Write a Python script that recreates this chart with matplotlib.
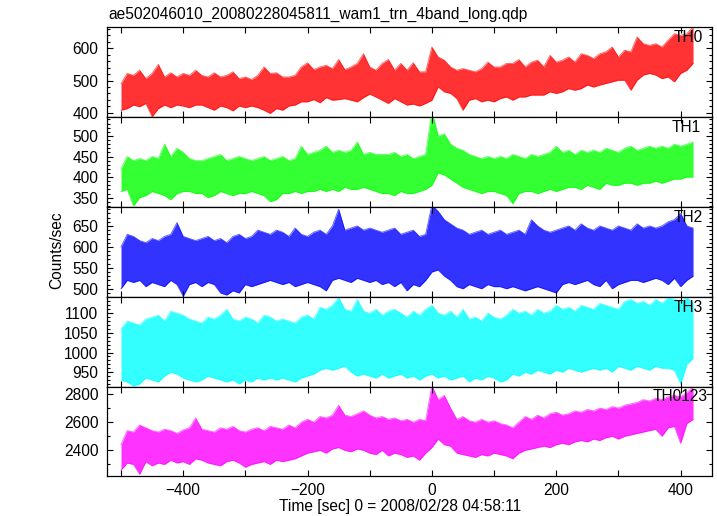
import matplotlib
matplotlib.use('Agg')
import matplotlib.pyplot as plt
from matplotlib.ticker import MultipleLocator, AutoMinorLocator
import numpy as np

plt.rcParams['font.family'] = ['Liberation Sans', 'DejaVu Sans']

# time grid of the envelope readings (sec from 2008/02/28 04:58:11)
t = np.arange(-500, 421, 10)

# upper / lower envelope of each band, every 10 s
th0_hi = [490, 522, 516, 532, 506, 522, 550, 511, 524, 511, 522, 516, 532, 516, 511, 524, 511, 516, 527, 506,
          511, 503, 516, 542, 522, 524, 511, 511, 516, 542, 555, 534, 542, 547, 537, 565, 534, 542, 553, 583,
          542, 532, 553, 565, 532, 553, 532, 555, 527, 527,
          604, 573, 563, 542, 532, 537, 532, 527, 537, 557, 542, 542, 553, 553, 565, 542, 557, 563, 542, 578,
          557, 563, 573, 557, 583, 578, 568, 583, 589, 604, 573, 594, 589, 635, 614, 609, 614, 604, 625, 645,
          640, 645, 666]
th0_lo = [408, 413, 424, 419, 429, 388, 413, 424, 416, 424, 421, 416, 424, 424, 416, 408, 421, 416, 406, 421,
          416, 421, 416, 408, 398, 413, 408, 421, 424, 434, 434, 441, 431, 447, 439, 441, 444, 439, 434, 447,
          458, 449, 439, 429, 444, 434, 424, 427, 421, 429,
          439, 480, 465, 460, 444, 408, 439, 444, 434, 439, 434, 444, 449, 439, 449, 449, 455, 455, 455, 465,
          460, 465, 475, 470, 475, 486, 480, 486, 491, 496, 501, 501, 470, 501, 517, 522, 517, 506, 511, 496,
          522, 532, 553]

th1_hi = [420, 450, 440, 445, 440, 450, 445, 480, 450, 470, 460, 445, 440, 440, 445, 450, 455, 440, 445, 450,
          445, 440, 445, 450, 440, 445, 450, 440, 445, 475, 455, 460, 465, 475, 460, 465, 460, 465, 485, 455,
          460, 455, 455, 455, 460, 450, 455, 445, 450, 455,
          560, 500, 505, 480, 470, 465, 455, 450, 445, 450, 445, 450, 445, 455, 450, 445, 455, 450, 455, 460,
          475, 460, 465, 455, 465, 460, 465, 460, 470, 465, 460, 470, 475, 465, 470, 475, 470, 475, 470, 480,
          475, 480, 485]
th1_lo = [365, 370, 330, 350, 355, 365, 360, 355, 345, 360, 365, 365, 360, 360, 350, 355, 365, 360, 355, 360,
          360, 365, 360, 355, 340, 345, 360, 360, 365, 360, 365, 365, 370, 365, 370, 365, 375, 370, 370, 375,
          370, 365, 360, 360, 355, 365, 360, 360, 365, 370,
          380, 410, 405, 395, 385, 375, 370, 365, 360, 365, 365, 360, 355, 335, 360, 365, 365, 360, 365, 370,
          365, 370, 375, 375, 370, 380, 375, 370, 385, 380, 380, 385, 385, 380, 385, 385, 390, 385, 390, 395,
          395, 400, 400]

th2_hi = [600, 630, 625, 615, 610, 620, 615, 625, 630, 658, 625, 620, 615, 620, 625, 615, 620, 610, 625, 630,
          620, 625, 640, 635, 630, 640, 635, 625, 645, 630, 625, 635, 640, 630, 650, 690, 640, 645, 650, 640,
          645, 640, 635, 640, 645, 630, 635, 640, 625, 630,
          700, 685, 665, 655, 645, 640, 630, 635, 640, 630, 635, 640, 630, 635, 640, 630, 665, 650, 640, 635,
          640, 645, 650, 640, 655, 645, 640, 650, 645, 640, 650, 645, 640, 655, 645, 650, 645, 650, 660, 665,
          680, 650, 645]
th2_lo = [500, 520, 515, 520, 505, 515, 510, 505, 520, 510, 482, 510, 515, 505, 515, 510, 490, 485, 495, 490,
          510, 505, 510, 515, 520, 515, 510, 515, 505, 510, 515, 510, 505, 495, 520, 525, 520, 515, 525, 520,
          515, 520, 510, 515, 505, 515, 495, 510, 505, 520,
          540, 545, 530, 520, 505, 500, 510, 505, 500, 510, 505, 505, 500, 505, 500, 495, 500, 505, 500, 495,
          490, 510, 515, 510, 515, 520, 510, 505, 520, 500, 510, 515, 520, 520, 515, 520, 525, 520, 510, 525,
          505, 520, 530]

th3_hi = [1060, 1080, 1075, 1070, 1085, 1090, 1095, 1080, 1105, 1100, 1095, 1085, 1080, 1075, 1090, 1085, 1095, 1110, 1085, 1080,
          1090, 1085, 1075, 1095, 1090, 1080, 1085, 1080, 1075, 1090, 1095, 1085, 1115, 1110, 1120, 1140, 1110, 1105, 1135, 1105,
          1100, 1110, 1095, 1105, 1110, 1100, 1090, 1105, 1095, 1110,
          1120, 1100, 1095, 1105, 1090, 1110, 1085, 1090, 1080, 1100, 1090, 1085, 1095, 1110, 1100, 1105, 1095, 1110, 1100, 1105,
          1120, 1110, 1115, 1105, 1120, 1115, 1110, 1125, 1120, 1115, 1110, 1130, 1135, 1125, 1130, 1120, 1135, 1125, 1140, 1135,
          1130, 1140, 1125]
th3_lo = [930, 925, 915, 920, 935, 930, 925, 940, 950, 945, 935, 930, 925, 930, 940, 935, 930, 925, 930, 920,
          930, 925, 935, 930, 935, 930, 935, 930, 925, 935, 940, 945, 955, 960, 955, 960, 965, 950, 940, 945,
          940, 935, 945, 935, 940, 945, 935, 940, 930, 940,
          945, 935, 940, 930, 935, 940, 925, 935, 930, 940, 935, 925, 930, 945, 940, 950, 945, 955, 950, 945,
          955, 950, 960, 955, 950, 955, 960, 955, 960, 950, 965, 960, 955, 965, 960, 955, 965, 960, 960, 955,
          920, 970, 985]

th0123_hi = [2440, 2540, 2530, 2580, 2560, 2540, 2530, 2550, 2540, 2520, 2545, 2560, 2630, 2550, 2540, 2530, 2560, 2550, 2570, 2540,
             2530, 2550, 2560, 2540, 2570, 2560, 2550, 2580, 2560, 2600, 2620, 2600, 2640, 2630, 2650, 2720, 2650, 2640, 2660, 2680,
             2650, 2630, 2640, 2620, 2630, 2610, 2620, 2600, 2620, 2610,
             2860, 2760, 2790, 2700, 2620, 2640, 2610, 2600, 2620, 2600, 2610, 2590, 2580, 2560, 2600, 2640, 2620, 2650, 2630, 2660,
             2670, 2650, 2660, 2680, 2670, 2690, 2680, 2700, 2690, 2710, 2700, 2720, 2730, 2740, 2760, 2750, 2770, 2760, 2780, 2790,
             2780, 2810, 2850]
th0123_lo = [2260, 2310, 2300, 2230, 2320, 2290, 2310, 2300, 2330, 2310, 2320, 2300, 2340, 2330, 2310, 2300, 2290, 2320, 2330, 2310,
             2280, 2300, 2310, 2320, 2300, 2330, 2320, 2330, 2340, 2360, 2380, 2390, 2400, 2380, 2410, 2420, 2400, 2390, 2410, 2400,
             2380, 2370, 2400, 2360, 2380, 2370, 2350, 2360, 2330, 2380,
             2420, 2480, 2440, 2430, 2380, 2370, 2360, 2350, 2370, 2360, 2380, 2370, 2360, 2340, 2380, 2400, 2410, 2420, 2430, 2420,
             2440, 2450, 2440, 2460, 2470, 2460, 2480, 2470, 2490, 2500, 2480, 2500, 2510, 2520, 2530, 2540, 2550, 2500, 2560, 2570,
             2450, 2590, 2620]

names = ['TH0', 'TH1', 'TH2', 'TH3', 'TH0123']
highs = [th0_hi, th1_hi, th2_hi, th3_hi, th0123_hi]
lows = [th0_lo, th1_lo, th2_lo, th3_lo, th0123_lo]
colors = ['#ff0000', '#00ff00', '#0000ff', '#00ffff', '#ff00ff']
ylims = [(387, 666), (328, 546), (481, 696), (913, 1142), (2220, 2852)]
ymajor = [100, 50, 50, 50, 200]
yminor = [5, 5, 5, 5, 2]
label_x = [0.986, 0.982, 0.986, 0.985, 0.993]

FS = 11.2
W, H = 717, 516
fig = plt.figure(figsize=(W / 100, H / 100), dpi=100)
edges = [27, 117, 206.7, 296.7, 386.7, 475.7]
left, right = 106.7, 711.7

for i in range(5):
    top, bot = edges[i], edges[i + 1]
    ax = fig.add_axes([left / W, 1 - bot / H, (right - left) / W, (bot - top) / H])
    hi = np.array(highs[i], dtype=float)
    lo = np.array(lows[i], dtype=float)
    # dense light curve drawn as its envelope band
    ax.fill_between(t, lo, hi, color=colors[i], alpha=0.8, lw=0)
    ax.plot(t, hi, color=colors[i], lw=0.7, alpha=0.6)
    ax.plot(t, lo, color=colors[i], lw=0.7, alpha=0.6)

    ax.set_xlim(-523, 450)
    ax.set_ylim(*ylims[i])
    ax.xaxis.set_major_locator(MultipleLocator(200))
    ax.xaxis.set_minor_locator(MultipleLocator(100))
    ax.yaxis.set_major_locator(MultipleLocator(ymajor[i]))
    ax.yaxis.set_minor_locator(AutoMinorLocator(yminor[i]))
    ax.tick_params(which='both', direction='in', top=True, right=True, labelsize=FS, width=0.8)
    ax.tick_params(axis='x', which='both', length=4, pad=5)
    ax.tick_params(axis='y', which='major', length=4, pad=6)
    ax.tick_params(axis='y', which='minor', length=2.2)
    for s in ax.spines.values():
        s.set_linewidth(0.9)
    if i < 4:
        ax.tick_params(axis='x', labelbottom=False)
    ax.text(label_x[i], 0.885, names[i], transform=ax.transAxes, ha='right', va='center', fontsize=FS)

fig.text(108 / W, 1 - 14 / H, 'ae502046010_20080228045811_wam1_trn_4band_long.qdp',
         ha='left', va='center', fontsize=FS)
fig.text(57 / W, 1 - 250 / H, 'Counts/sec', rotation=90, ha='center', va='center', fontsize=FS)
fig.text(400 / W, 1 - 507 / H, 'Time [sec] 0 = 2008/02/28 04:58:11', ha='center', va='center', fontsize=FS)

fig.savefig('out.png', dpi=100, facecolor='white')
